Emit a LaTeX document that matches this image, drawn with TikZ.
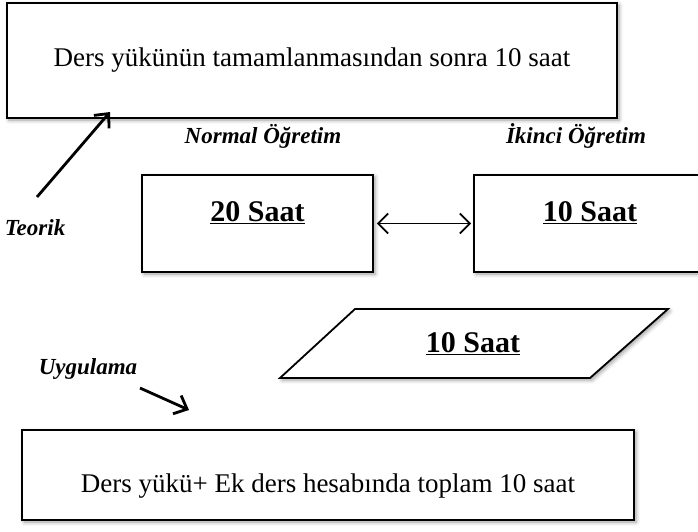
\documentclass[tikz,border=0pt]{standalone}
\usepackage{fontspec}
\setmainfont{Liberation Serif}
\usetikzlibrary{shadows.blur,arrows.meta}
\begin{document}
\begin{tikzpicture}[x=1pt,y=-1pt,
  box/.style={draw, line width=1.8pt, fill=white, inner sep=0pt,
    blur shadow={shadow xshift=2pt,shadow yshift=-2pt,shadow blur radius=4pt}},
  lbl/.style={font=\fontsize{23}{27}\selectfont\bfseries\itshape},
  big/.style={font=\fontsize{30}{34}\selectfont\bfseries},
  body/.style={font=\fontsize{27}{31}\selectfont},
  thickarrow/.style={line width=2.8pt, -{Straight Barb[length=11pt,width=20pt]}}]
\useasboundingbox (0,0) rectangle (698,531);
\clip (0,0) rectangle (698,531);
% top box
\node[box, minimum width=610pt, minimum height=115pt] (top) at (312,60.5) {};
\node[body] (toptext) at (312,60) {Ders yükünün tamamlanmasından sonra 10 saat};
% labels
\node[lbl] (normal) at (263,136) {Normal Öğretim};
\node[lbl] (ikinci) at (576,136) {İkinci Öğretim};
\node[lbl] (teorik) at (35,228) {Teorik};
\node[lbl] (uygulama) at (88,369) {Uygulama};
% hour boxes
\node[box, minimum width=231pt, minimum height=97pt] (b20) at (257.5,223.5) {};
\node[big] (t20) at (257.5,213) {\underline{20 Saat}};
\node[box, minimum width=250pt, minimum height=97pt] (b10) at (599,223.5) {};
\node[big] (t10) at (590,213) {\underline{10 Saat}};
\draw[line width=1.8pt, {Straight Barb[length=10pt,width=20pt]}-{Straight Barb[length=10pt,width=20pt]}, shorten <=3pt, shorten >=2pt] (b20.east) -- (b10.west);
% parallelogram
\coordinate (p1) at (355,309);
\coordinate (p2) at (668,309);
\coordinate (p3) at (590,378);
\coordinate (p4) at (280,378);
\draw[line width=1.8pt, fill=white, blur shadow={shadow xshift=2pt,shadow yshift=-2pt,shadow blur radius=4pt}] (p1) -- (p2) -- (p3) -- (p4) -- cycle;
\node[big] (tp) at (473,344) {\underline{10 Saat}};
% bottom box
\node[box, minimum width=612pt, minimum height=90pt] (bottom) at (328,475) {};
\node[body] (bottomtext) at (328,486) {Ders yükü+ Ek ders hesabında toplam 10 saat};
% arrows
\coordinate (ta) at (37,197);
\coordinate (tb) at (110,112);
\draw[thickarrow] (ta) -- (tb);
\coordinate (ua) at (140,388);
\coordinate (ub) at (189,410);
\draw[thickarrow] (ua) -- (ub);
\end{tikzpicture}
\end{document}
